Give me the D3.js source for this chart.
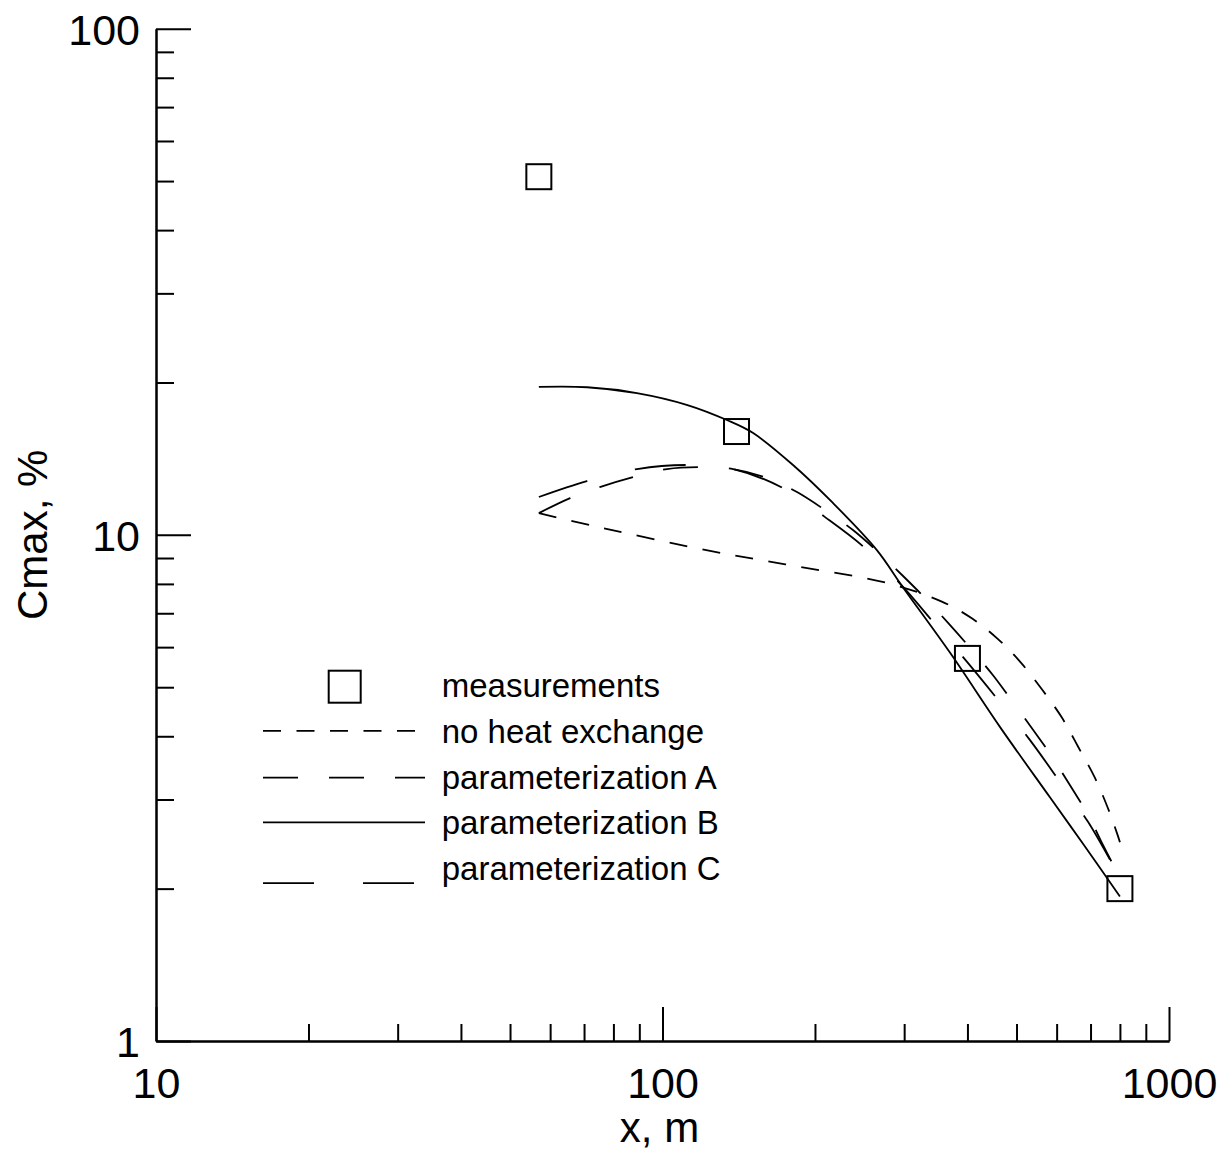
<!DOCTYPE html>
<html>
<head>
<meta charset="utf-8">
<script src="https://cdn.jsdelivr.net/npm/d3@7"></script>
<style>
  html, body { margin: 0; padding: 0; background: #fff; }
  svg { display: block; font-family: "Liberation Sans", Arial, Helvetica, sans-serif; }
</style>
</head>
<body>
<svg id="chart" width="1228" height="1153"></svg>
<script>
// Maximum concentration versus downwind distance (log-log)

// Axis ticks
const xMajorTicks = [10, 100, 1000];
const yMajorTicks = [1, 10, 100];
const xMinorTicks = [20, 30, 40, 50, 60, 70, 80, 90, 200, 300, 400, 500, 600, 700, 800, 900];
const yMinorTicks = [2, 3, 4, 5, 6, 7, 8, 9, 20, 30, 40, 50, 60, 70, 80, 90];

// Measurements
const measX = [57, 140, 400, 800];
const measY = [51, 16, 5.7, 2.0];

// Model: no heat exchange
const noHeatX = [57, 72, 122, 187, 278, 356, 408, 459, 511, 563, 614, 662, 713, 757, 793, 800];
const noHeatY = [11.04, 10.45, 9.33, 8.64, 8.03, 7.38, 6.84, 6.23, 5.58, 4.93, 4.36, 3.81, 3.32, 2.89, 2.54, 2.47];

// Model: parameterization A
const paramAX = [57, 65.7, 75.2, 87.5, 102, 118.6, 137.8, 160.8, 184.3, 209.4, 237.7, 266.4, 297.1, 332.9, 366.3, 408.4, 449.3, 492, 538.9, 590.2, 637.6, 692, 740.6, 789.6, 800];
const paramAY = [11.04, 11.82, 12.43, 13.01, 13.49, 13.61, 13.49, 12.95, 12.15, 11.19, 10.22, 9.25, 8.33, 7.43, 6.70, 5.92, 5.28, 4.67, 4.12, 3.62, 3.20, 2.80, 2.44, 2.16, 2.12];

// Model: parameterization B
const paramBX = [57, 71, 89, 112, 134, 151, 181, 217, 265, 298, 370, 464, 582, 677, 800];
const paramBY = [19.6, 19.57, 19.06, 18.05, 16.86, 15.89, 13.74, 11.56, 9.33, 7.89, 5.84, 4.17, 3.03, 2.45, 1.93];

// Model: parameterization C
const paramCX = [57, 70.9, 89.1, 111.8, 137.8, 172.9, 209.4, 251, 298.5, 342, 399.3, 459.7, 531.6, 609.2, 692, 789.6, 800];
const paramCY = [11.88, 12.77, 13.49, 13.74, 13.49, 12.37, 10.84, 9.42, 7.89, 6.73, 5.61, 4.72, 3.93, 3.25, 2.71, 2.16, 2.12];

const legendLabels = ["measurements", "no heat exchange", "parameterization A", "parameterization B", "parameterization C"];

// ---- layout ----
const svg = d3.select("#chart");
const plot = { left: 156, right: 1169, top: 28.7, bottom: 1041 };
const tickFont = 43, titleFont = 42, legendFont = 33;
const lineW = 1.8;

const x = d3.scaleLog().domain([10, 1000]).range([plot.left, plot.right]);
const y = d3.scaleLog().domain([1, 100]).range([plot.bottom, plot.top]);

const series = [
  { xs: noHeatX, ys: noHeatY, dash: "18,15.5" },
  { xs: paramAX, ys: paramAY, dash: "35,31" },
  { xs: paramBX, ys: paramBY, dash: null },
  { xs: paramCX, ys: paramCY, dash: "51,49" }
];

// ---- axes ----
function styleAxis(g) {
  g.selectAll("path.domain").attr("stroke", "#000").attr("stroke-width", 2);
  g.selectAll(".tick line").attr("stroke", "#000").attr("stroke-width", 2);
  g.selectAll(".tick text").attr("fill", "#000").attr("font-size", tickFont)
    .attr("font-family", "Liberation Sans, Arial, sans-serif");
}

// x axis: minor then major (ticks point into the plot)
svg.append("g").attr("transform", `translate(0,${plot.bottom})`)
  .call(d3.axisBottom(x).tickValues(xMinorTicks).tickSize(-17).tickSizeOuter(0).tickFormat(""))
  .call(styleAxis);
svg.append("g").attr("transform", `translate(0,${plot.bottom})`)
  .call(d3.axisBottom(x).tickValues(xMajorTicks).tickSize(-34).tickSizeOuter(0)
    .tickPadding(26).tickFormat(d3.format("d")))
  .call(styleAxis);

// y axis
svg.append("g").attr("transform", `translate(${plot.left},0)`)
  .call(d3.axisLeft(y).tickValues(yMinorTicks).tickSize(-18).tickSizeOuter(0).tickFormat(""))
  .call(styleAxis);
const yMaj = svg.append("g").attr("transform", `translate(${plot.left},0)`)
  .call(d3.axisLeft(y).tickValues(yMajorTicks).tickSize(-35).tickSizeOuter(0)
    .tickPadding(16).tickFormat(d3.format("d")))
  .call(styleAxis);
yMaj.selectAll(".tick text").attr("dy", "0.36em");

// axis titles
svg.append("text")
  .attr("x", (plot.left + plot.right) / 2 - 3)
  .attr("y", 1142)
  .attr("text-anchor", "middle")
  .attr("font-size", titleFont)
  .text("x, m");

svg.append("text")
  .attr("transform", `translate(47,${(plot.top + plot.bottom) / 2}) rotate(-90)`)
  .attr("text-anchor", "middle")
  .attr("font-size", titleFont)
  .text("Cmax, %");

// ---- model curves ----
const line = d3.line()
  .x(d => x(d[0]))
  .y(d => y(d[1]))
  .curve(d3.curveCatmullRom.alpha(0.5));

svg.append("g").selectAll("path")
  .data(series)
  .join("path")
  .attr("d", s => line(s.xs.map((v, i) => [v, s.ys[i]])))
  .attr("fill", "none")
  .attr("stroke", "#000")
  .attr("stroke-width", lineW)
  .attr("stroke-dasharray", s => s.dash);

// ---- measurements ----
const sq = 25;
svg.append("g").selectAll("rect")
  .data(measX.map((v, i) => [v, measY[i]]))
  .join("rect")
  .attr("x", d => x(d[0]) - sq / 2)
  .attr("y", d => y(d[1]) - sq / 2)
  .attr("width", sq)
  .attr("height", sq)
  .attr("fill", "none")
  .attr("stroke", "#000")
  .attr("stroke-width", 2);

// ---- legend ----
const leg = svg.append("g").attr("transform", "translate(263,697)");
const rowH = 45.8;
const textX = 178.7;

leg.selectAll("text")
  .data(legendLabels)
  .join("text")
  .attr("x", textX)
  .attr("y", (d, i) => i * rowH)
  .attr("font-size", legendFont)
  .attr("fill", "#000")
  .text(d => d);

// symbol for measurements
leg.append("rect")
  .attr("x", 81.7 - 16).attr("y", -10.3 - 16)
  .attr("width", 32).attr("height", 32)
  .attr("fill", "none").attr("stroke", "#000").attr("stroke-width", 2);

// line samples (the last one sits a little below its label)
const legLines = [
  { s: series[0], len: 152, dy: -12 },
  { s: series[1], len: 162, dy: -11 },
  { s: series[2], len: 162, dy: -12 },
  { s: series[3], len: 154, dy: 3 }
];
leg.selectAll("line.sample")
  .data(legLines)
  .join("line")
  .attr("class", "sample")
  .attr("x1", 0)
  .attr("x2", d => d.len)
  .attr("y1", (d, i) => (i + 1) * rowH + d.dy)
  .attr("y2", (d, i) => (i + 1) * rowH + d.dy)
  .attr("stroke", "#000")
  .attr("stroke-width", lineW)
  .attr("stroke-dasharray", d => d.s.dash);
</script>
</body>
</html>
